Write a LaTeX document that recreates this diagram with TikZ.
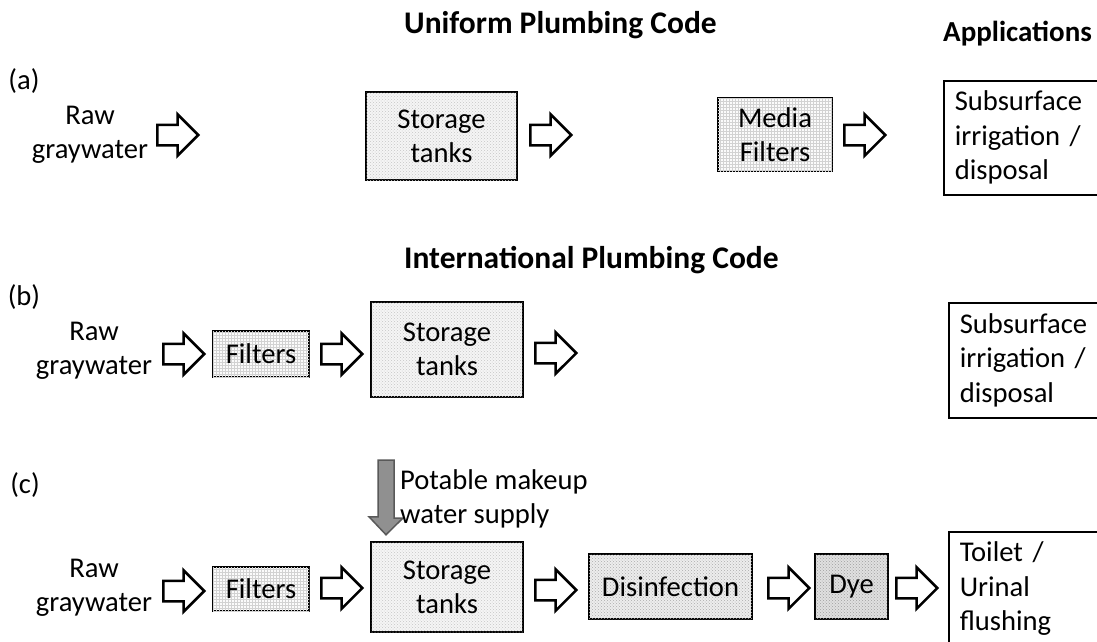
\documentclass[tikz,border=0pt]{standalone}
\usepackage{fontspec}
\setmainfont{Carlito}
\usetikzlibrary{shapes.arrows,patterns,calc}
\tikzset{
  txt/.style={font=\fontsize{28.6}{34}\selectfont, align=center, inner sep=0pt},
  lbl/.style={font=\fontsize{28.6}{34}\selectfont, inner sep=0pt},
  ttl/.style={font=\bfseries\fontsize{31.5}{36}\selectfont, inner sep=0pt, anchor=base west},
  box/.style={draw=black, line width=2.5pt, inner sep=0pt, align=center,
    font=\fontsize{28.6}{34}\selectfont},
  storagebox/.style={box, fill=gray!8, postaction={pattern=crosshatch dots, pattern color=gray!45}},
  gridbox/.style={box, fill=gray!3, postaction={pattern=grid, pattern color=gray!35}},
  lightdotbox/.style={box, fill=gray!14, postaction={pattern=crosshatch dots, pattern color=gray!65}},
  darkbox/.style={box, fill=gray!24, postaction={pattern=crosshatch dots, pattern color=gray!75}},
  appbox/.style={draw=black, line width=1.5pt, inner xsep=11pt, inner ysep=0pt, align=left,
    text width=150pt, minimum width=170pt, minimum height=114pt, anchor=north west,
    font=\fontsize{28.6}{34.5}\selectfont},
  blockarrow/.style={single arrow, draw=black, line width=2.5pt, fill=white, inner xsep=0pt,
    inner ysep=9pt, single arrow head extend=10.5pt, minimum height=41pt, anchor=tail},
  supplyarrow/.style={fill=gray!55!black!100, fill opacity=0.6, draw=gray!70!black, line width=1.5pt},
}
\begin{document}
\begin{tikzpicture}[x=1pt,y=-1pt]
\clip (0,0) rectangle (1097,641);
\fill[white] (0,0) rectangle (1097,641);

% titles
\node[ttl] (t1) at (404,33) {Uniform Plumbing Code};
\node[ttl] (t2) at (404,268) {International Plumbing Code};
\node[ttl, font=\bfseries\fontsize{29}{34}\selectfont] (tapp) at (943,41) {Applications};

% row a
\node[lbl] (la) at (24,81) {(a)};
\node[txt] (rawa) at (90,135) {Raw\\graywater};
\node[blockarrow] (a1) at (156,135) {};
\node[storagebox, minimum width=151pt, minimum height=88pt] (sa) at (441.5,136) {Storage\\tanks};
\node[blockarrow] (a2) at (529,135) {};
\node[gridbox, minimum width=114pt, minimum height=73pt] (mfa) at (775,134.5) {Media\\Filters};
\node[blockarrow] (a3) at (843,135) {};
\node[appbox] (appa) at (943,80) {Subsurface\\irrigation /\\disposal};

% row b
\node[lbl] (lb) at (24,297) {(b)};
\node[txt] (rawb) at (94,351) {Raw\\graywater};
\node[blockarrow] (b1) at (162,354) {};
\node[gridbox, minimum width=96pt, minimum height=46pt] (fb) at (261,354) {Filters};
\node[blockarrow] (b2) at (320,354) {};
\node[storagebox, minimum width=152pt, minimum height=95pt] (sb) at (447,349.5) {Storage\\tanks};
\node[blockarrow] (b3) at (534,353) {};
\node[appbox, minimum height=115pt] (appb) at (948,302) {Subsurface\\irrigation /\\disposal};

% row c
\node[lbl] (lc) at (25,485) {(c)};
\node[txt] (rawc) at (94,588) {Raw\\graywater};
\node[blockarrow] (c1) at (162,591) {};
\node[gridbox, minimum width=96pt, minimum height=44pt] (fc) at (261,589) {Filters};
\node[blockarrow] (c2) at (320,588) {};
\node[storagebox, minimum width=152pt, minimum height=90pt] (sc) at (447,587) {Storage\\tanks};
\node[blockarrow] (c3) at (534,590) {};
\node[lightdotbox, minimum width=163pt, minimum height=65pt] (dis) at (670.5,586.5) {Disinfection};
\node[blockarrow] (c4) at (767,588) {};
\node[darkbox, minimum width=73pt, minimum height=65pt] (dye) at (851.5,586.5) {Dye};
\node[blockarrow] (c5) at (895,588) {};
\node[appbox] (appc) at (948,531) {Toilet /\\Urinal\\flushing};

% potable makeup water supply
\coordinate (sup) at (386,460);
\draw[supplyarrow] (sup) ++(-8,0) -- ++(16,0) -- ++(0,58) -- ++(9,0)
  -- ($(sc.north -| sup)+(0,-6)$) -- ++(-17,-18) -- ++(9,0) -- cycle;
\node[lbl, align=left, anchor=west] (pot) at (400,499) {Potable makeup\\water supply};
\end{tikzpicture}
\end{document}
